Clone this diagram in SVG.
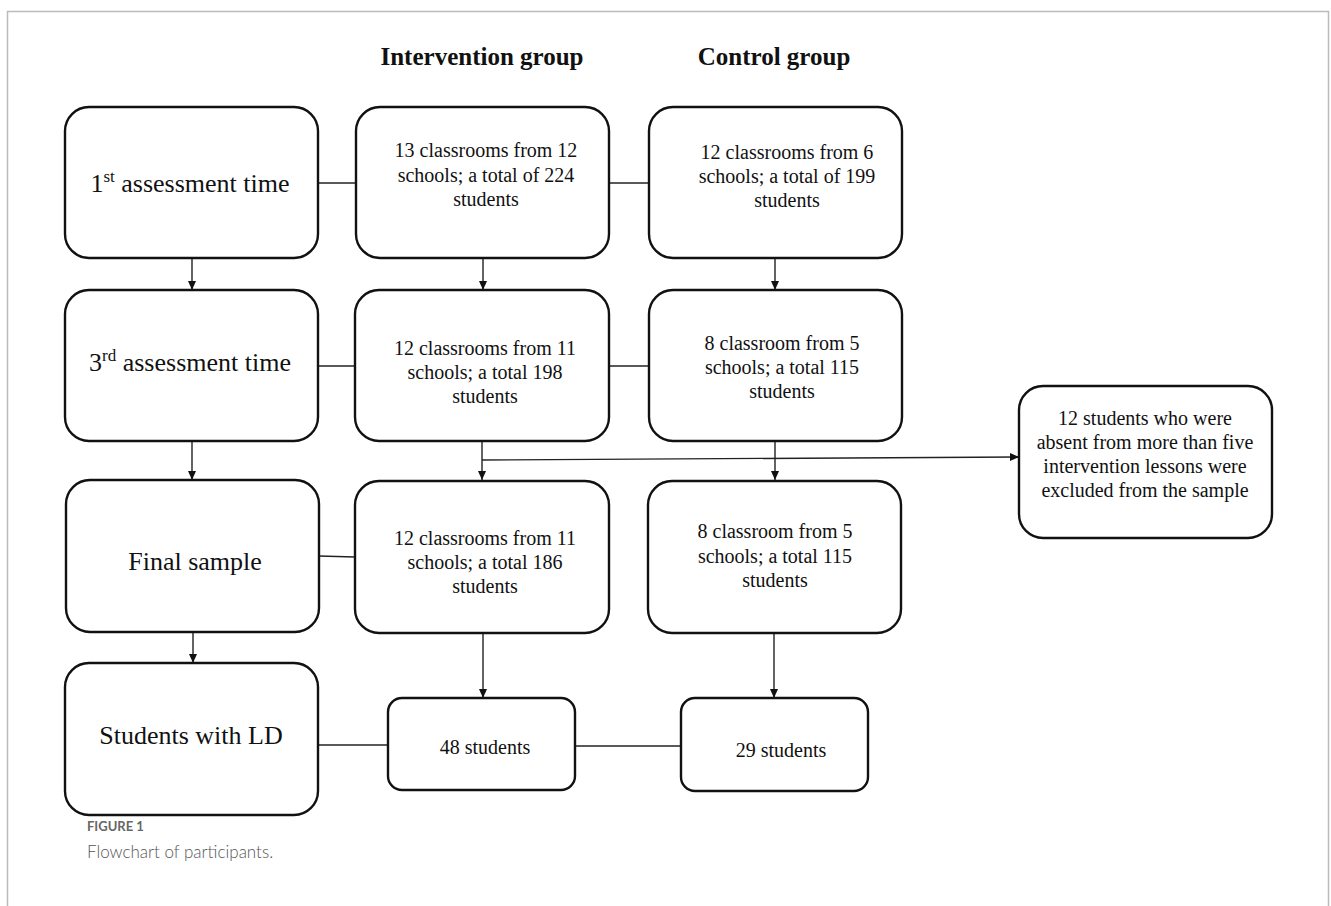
<svg xmlns="http://www.w3.org/2000/svg" width="1331" height="906" viewBox="0 0 1331 906">
<defs>
<style>
.box{fill:#fff;stroke:#111;stroke-width:2.4}
.t{font-family:"Liberation Serif","Times New Roman",serif;fill:#111;text-anchor:middle}
.s{font-size:20px}
.l{font-size:26px}
.h{font-size:25px;font-weight:bold}
.c{stroke:#222;stroke-width:1.4;fill:none}
</style>
<marker id="ah" markerWidth="10" markerHeight="10" refX="9" refY="5" orient="auto" markerUnits="userSpaceOnUse">
<path d="M0,1 L9,5 L0,9 Z" fill="#111"/>
</marker>
</defs>
<rect x="0" y="0" width="1331" height="906" fill="#fff"/>
<path d="M7.5,920 V11.5 H1328.5 V920" fill="none" stroke="#bbb" stroke-width="1.5"/>

<text class="t h" x="482" y="65">Intervention group</text>
<text class="t h" x="774" y="65">Control group</text>

<g id="connectors">
<line class="c" x1="318" y1="183" x2="356" y2="183"/>
<line class="c" x1="609" y1="183" x2="649" y2="183"/>
<line class="c" x1="318" y1="366" x2="355" y2="366"/>
<line class="c" x1="609" y1="366" x2="649" y2="366"/>
<line class="c" x1="319" y1="556" x2="355" y2="557"/>
<line class="c" x1="318" y1="745" x2="388" y2="745"/>
<line class="c" x1="575" y1="746" x2="681" y2="746"/>
<line class="c" x1="192" y1="258" x2="192" y2="290" marker-end="url(#ah)"/>
<line class="c" x1="483" y1="258" x2="483" y2="290" marker-end="url(#ah)"/>
<line class="c" x1="775" y1="258" x2="775" y2="290" marker-end="url(#ah)"/>
<line class="c" x1="192" y1="441" x2="192" y2="480" marker-end="url(#ah)"/>
<line class="c" x1="482" y1="441" x2="482" y2="480" marker-end="url(#ah)"/>
<line class="c" x1="775" y1="441" x2="775" y2="480" marker-end="url(#ah)"/>
<line class="c" x1="482" y1="460" x2="1019" y2="457" marker-end="url(#ah)"/>
<line class="c" x1="193" y1="632" x2="193" y2="663" marker-end="url(#ah)"/>
<line class="c" x1="483" y1="632" x2="483" y2="698" marker-end="url(#ah)"/>
<line class="c" x1="774" y1="632" x2="774" y2="698" marker-end="url(#ah)"/>
</g>

<g id="a1"><rect class="box" x="65" y="107" width="253" height="151" rx="24"/>
<text class="t l" x="190" y="192">1<tspan font-size="17" dy="-10">st</tspan><tspan dy="10"> assessment time</tspan></text></g>
<g id="b1"><rect class="box" x="356" y="107" width="253" height="151" rx="24"/>
<text class="t s" x="486"><tspan x="486" y="157">13 classrooms from 12</tspan><tspan x="486" y="182">schools; a total of 224</tspan><tspan x="486" y="206">students</tspan></text></g>
<g id="c1"><rect class="box" x="649" y="107" width="253" height="151" rx="24"/>
<text class="t s"><tspan x="787" y="159">12 classrooms from 6</tspan><tspan x="787" y="183">schools; a total of 199</tspan><tspan x="787" y="207">students</tspan></text></g>

<g id="a2"><rect class="box" x="65" y="290" width="253" height="151" rx="24"/>
<text class="t l" x="190" y="371">3<tspan font-size="17" dy="-10">rd</tspan><tspan dy="10"> assessment time</tspan></text></g>
<g id="b2"><rect class="box" x="355" y="290" width="254" height="151" rx="24"/>
<text class="t s"><tspan x="485" y="355">12 classrooms from 11</tspan><tspan x="485" y="379">schools; a total 198</tspan><tspan x="485" y="403">students</tspan></text></g>
<g id="c2"><rect class="box" x="649" y="290" width="253" height="151" rx="24"/>
<text class="t s"><tspan x="782" y="350">8 classroom from 5</tspan><tspan x="782" y="374">schools; a total 115</tspan><tspan x="782" y="398">students</tspan></text></g>

<g id="a3"><rect class="box" x="66" y="480" width="253" height="152" rx="24"/>
<text class="t l" x="195" y="570">Final sample</text></g>
<g id="b3"><rect class="box" x="355" y="481" width="254" height="152" rx="24"/>
<text class="t s"><tspan x="485" y="545">12 classrooms from 11</tspan><tspan x="485" y="569">schools; a total 186</tspan><tspan x="485" y="593">students</tspan></text></g>
<g id="c3"><rect class="box" x="648" y="481" width="253" height="152" rx="24"/>
<text class="t s"><tspan x="775" y="538">8 classroom from 5</tspan><tspan x="775" y="563">schools; a total 115</tspan><tspan x="775" y="587">students</tspan></text></g>

<g id="d"><rect class="box" x="1019" y="386" width="253" height="152" rx="24"/>
<text class="t s"><tspan x="1145" y="425">12 students who were</tspan><tspan x="1145" y="449">absent from more than five</tspan><tspan x="1145" y="473">intervention lessons were</tspan><tspan x="1145" y="497">excluded from the sample</tspan></text></g>

<g id="a4"><rect class="box" x="65" y="663" width="253" height="152" rx="24"/>
<text class="t l" x="191" y="744">Students with LD</text></g>
<g id="b4"><rect class="box" x="388" y="698" width="187" height="92" rx="14"/>
<text class="t s" x="485" y="754">48 students</text></g>
<g id="c4"><rect class="box" x="681" y="698" width="187" height="93" rx="14"/>
<text class="t s" x="781" y="757">29 students</text></g>

<text x="87" y="831" font-family="Lato,'Open Sans',sans-serif" font-size="13" font-weight="bold" fill="#666">FIGURE 1</text>
<text x="87" y="858" font-family="Lato,'Open Sans',sans-serif" font-size="17" font-weight="300" fill="#555">Flowchart of participants.</text>
</svg>
